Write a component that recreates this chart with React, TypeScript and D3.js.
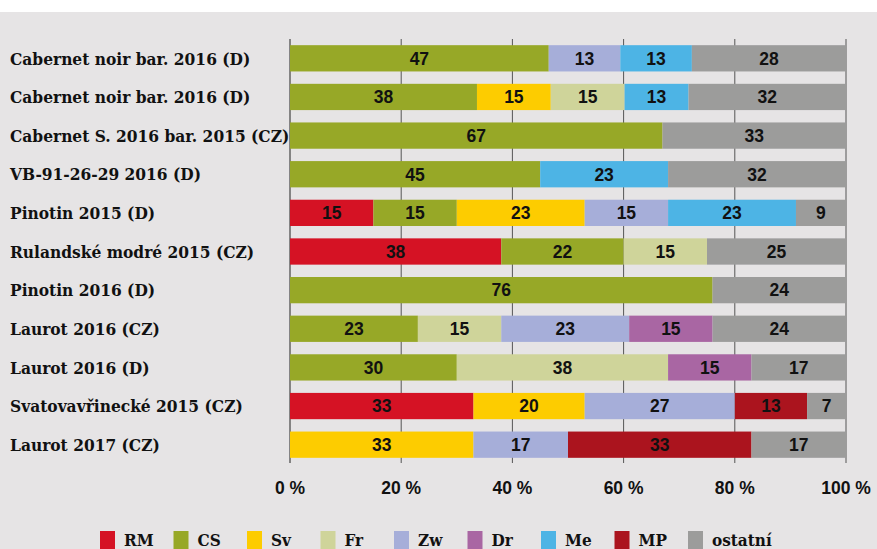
import React from "react";
import * as d3 from "d3";

const wines = [
  "Cabernet noir bar. 2016 (D)",
  "Cabernet noir bar. 2016 (D)",
  "Cabernet S. 2016 bar. 2015 (CZ)",
  "VB-91-26-29 2016 (D)",
  "Pinotin 2015 (D)",
  "Rulandské modré 2015 (CZ)",
  "Pinotin 2016 (D)",
  "Laurot 2016 (CZ)",
  "Laurot 2016 (D)",
  "Svatovavřinecké 2015 (CZ)",
  "Laurot 2017 (CZ)",
];

const keys = ["RM", "CS", "Sv", "Fr", "Zw", "Dr", "Me", "MP", "ostatní"];

// one array per variety, in the row order above
const RM = [0, 0, 0, 0, 15, 38, 0, 0, 0, 33, 0];
const CS = [47, 38, 67, 45, 15, 22, 76, 23, 30, 0, 0];
const Sv = [0, 15, 0, 0, 23, 0, 0, 0, 0, 20, 33];
const Fr = [0, 15, 0, 0, 0, 15, 0, 15, 38, 0, 0];
const Zw = [13, 0, 0, 0, 15, 0, 0, 23, 0, 27, 17];
const Dr = [0, 0, 0, 0, 0, 0, 0, 15, 15, 0, 0];
const Me = [13, 13, 0, 23, 23, 0, 0, 0, 0, 0, 0];
const MP = [0, 0, 0, 0, 0, 0, 0, 0, 0, 13, 33];
const ostatni = [28, 32, 33, 32, 9, 25, 24, 24, 17, 7, 17];

const ticks = [0, 20, 40, 60, 80, 100];

const colors: Record<string, string> = {
  RM: "#d51224",
  CS: "#97a827",
  Sv: "#fdcc00",
  Fr: "#cfd49a",
  Zw: "#a6aed9",
  Dr: "#a966a3",
  Me: "#4db4e5",
  MP: "#ab141e",
  "ostatní": "#9c9c9b",
};

const series: Record<string, number[]> = {
  RM, CS, Sv, Fr, Zw, Dr, Me, MP, "ostatní": ostatni,
};

const W = 877;
const H = 549;
const left = 290;
const right = 846;

const labelFont = "'DejaVu Serif Condensed', 'DejaVu Serif', serif";
const numFont = "'Liberation Sans', Arial, sans-serif";

export default function App() {
  const rows = wines.map((w, i) => {
    const r: any = { idx: i, name: w };
    let total = 0;
    keys.forEach((k) => {
      r[k] = series[k][i];
      total += series[k][i];
    });
    keys.forEach((k) => {
      r[k + "_p"] = (series[k][i] / total) * 100;
    });
    return r;
  });

  const stack = d3
    .stack<any>()
    .keys(keys.map((k) => k + "_p"))(rows);

  const x = d3.scaleLinear().domain([0, 100]).range([left, right]);
  const y = d3
    .scaleBand<number>()
    .domain(d3.range(wines.length))
    .range([39, 464])
    .paddingInner(0.32)
    .paddingOuter(0.16);

  const legendX = d3.scalePoint<string>().domain(keys).range([100, 688]);

  return (
    <svg
      width={W}
      height={H}
      style={{ position: "absolute", left: 0, top: 0, display: "block" }}
    >
      <rect x={0} y={0} width={W} height={H} fill="#fff" />
      <rect x={0} y={12} width={W} height={H - 12} fill="#e6e4e5" />

      {/* grid */}
      {ticks.map((t) => (
        <line
          key={t}
          x1={x(t)}
          x2={x(t)}
          y1={39}
          y2={463}
          stroke={t === 0 ? "#222" : "#555"}
          strokeWidth={1}
        />
      ))}

      {/* bars */}
      {stack.map((layer, li) => {
        const key = keys[li];
        return (
          <g key={key}>
            {layer.map((d, i) => {
              const v = series[key][i];
              if (!v) return null;
              const x0 = x(d[0]);
              const x1 = x(d[1]);
              const yy = y(i)!;
              return (
                <g key={i}>
                  <rect
                    x={x0}
                    y={yy}
                    width={x1 - x0}
                    height={y.bandwidth()}
                    fill={colors[key]}
                  />
                  <text
                    x={(x0 + x1) / 2}
                    y={yy + y.bandwidth() / 2}
                    dy="0.36em"
                    textAnchor="middle"
                    fontFamily={numFont}
                    fontWeight="bold"
                    fontSize={17.5}
                    fill="#111"
                  >
                    {v}
                  </text>
                </g>
              );
            })}
          </g>
        );
      })}

      {/* category labels */}
      {wines.map((w, i) => (
        <text
          key={i}
          x={10}
          y={y(i)! + y.bandwidth() / 2}
          dy="0.36em"
          fontFamily={labelFont}
          fontWeight="bold"
          fontSize={17.2}
          fill="#111"
        >
          {w}
        </text>
      ))}

      {/* x tick labels */}
      {ticks.map((t) => (
        <text
          key={t}
          x={x(t)}
          y={494}
          textAnchor="middle"
          fontFamily={numFont}
          fontWeight="bold"
          fontSize={17.5}
          fill="#111"
        >
          {t} %
        </text>
      ))}

      {/* legend */}
      {keys.map((k) => (
        <g key={k} transform={`translate(${legendX(k)},531)`}>
          <rect x={0} y={0} width={15} height={18} fill={colors[k]} />
          <text
            x={24}
            y={15}
            fontFamily={labelFont}
            fontWeight="bold"
            fontSize={17}
            fill="#111"
          >
            {k}
          </text>
        </g>
      ))}
    </svg>
  );
}
